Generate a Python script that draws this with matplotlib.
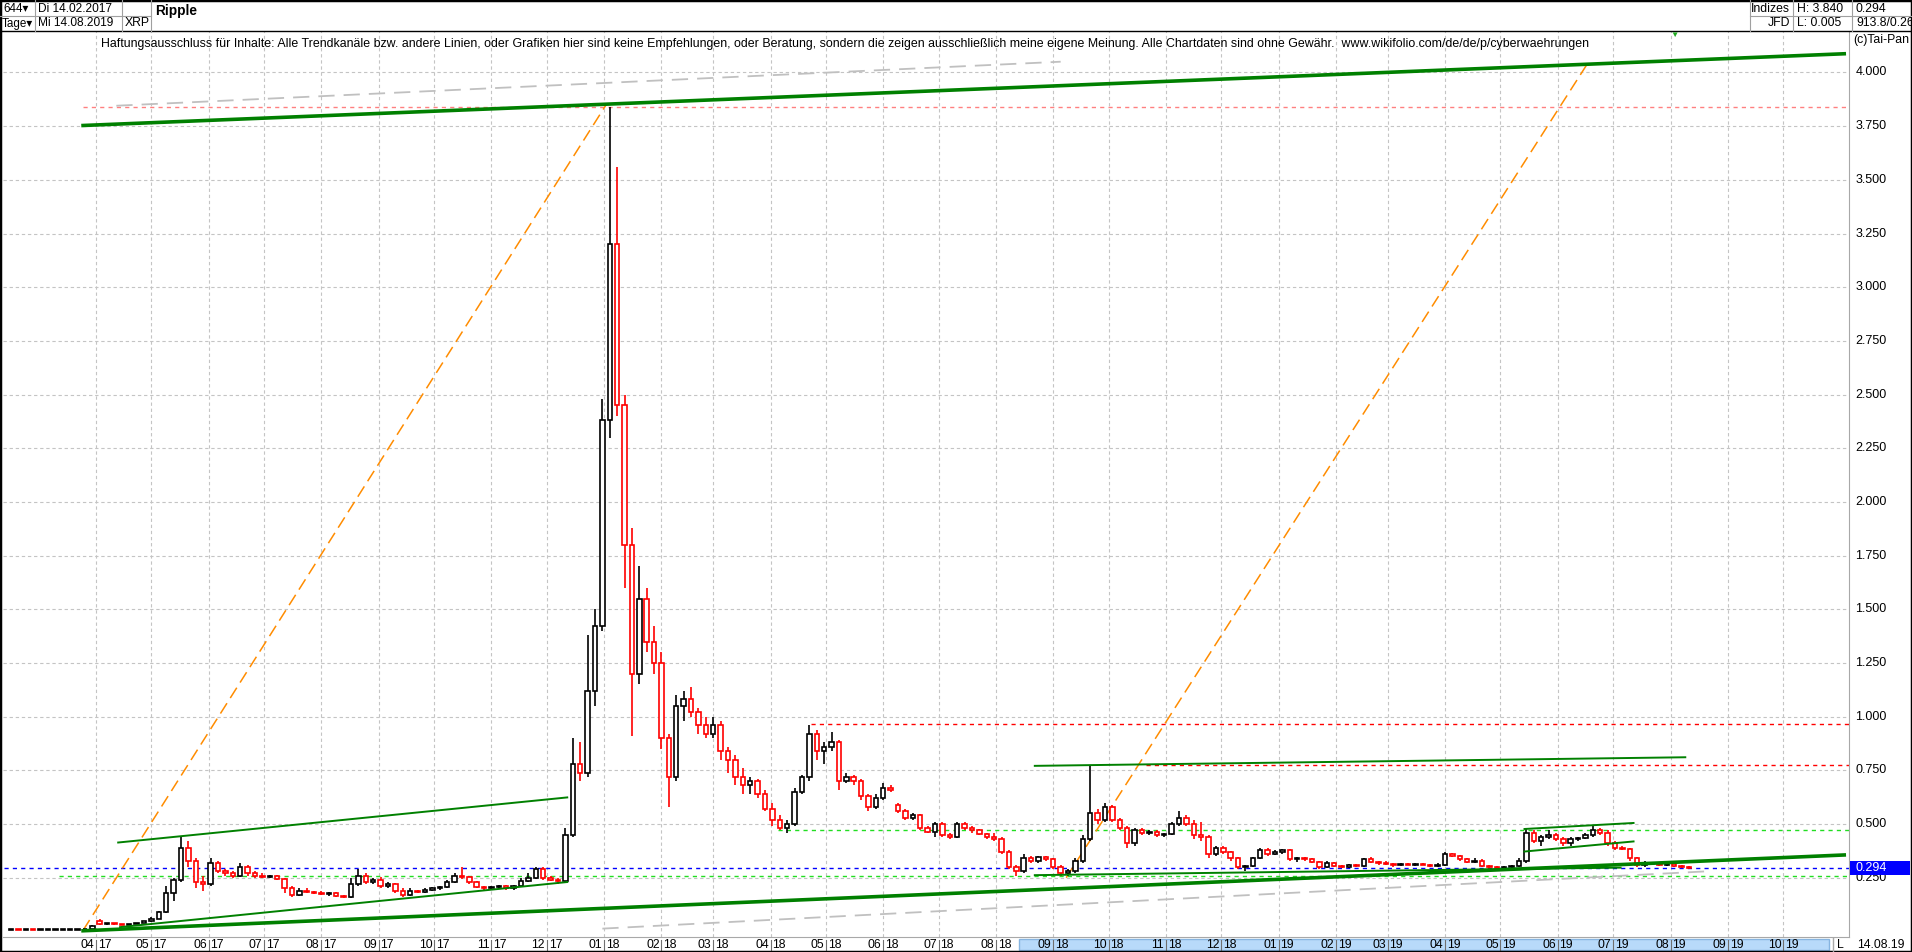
"""Ripple (XRP) 4-day candles with trend channels, Tai-Pan style screenshot."""

import numpy as np
import matplotlib.pyplot as plt
from matplotlib.patches import Rectangle
from matplotlib.lines import Line2D

plt.rcParams["font.family"] = ["Liberation Sans", "DejaVu Sans"]

W, H = 1912, 952
START = np.datetime64("2017-02-14")
BAR_DAYS = 4

# ── OHLC, one candle per 4 days from 14.02.2017 ──────────
opens = [
    .0063, .0064, .0063, .0064, .0062, .0063, .0067, .0068, .0072, .0078,
    .009, .011, .050, .033, .034, .033, .032, .035, .038, .047,
    .060, .090, .180, .240, .390, .330, .230, .220, .320, .280,
    .270, .260, .300, .270, .260, .255, .260, .245, .200, .170,
    .190, .185, .180, .175, .180, .165, .160, .220, .260, .230,
    .240, .210, .220, .190, .170, .190, .185, .195, .200, .205,
    .230, .260, .255, .230, .205, .200, .205, .210, .200, .210,
    .235, .250, .290, .250, .240, .235, .450, .780, .740, 1.12,
    1.42, 2.38, 3.20, 2.45, 1.80, 1.20, 1.55, 1.35, 1.25, .90,
    .72, 1.05, 1.08, 1.02, .96, .92, .96, .84, .80, .72,
    .68, .70, .64, .57, .52, .48, .50, .65, .72, .92,
    .84, .86, .88, .70, .72, .70, .63, .58, .62, .67,
    .59, .56, .53, .54, .48, .465, .50, .45, .44, .50,
    .48, .47, .455, .44, .43, .37, .30, .28, .34, .33,
    .345, .335, .30, .27, .28, .33, .43, .55, .52, .58,
    .52, .48, .41, .47, .46, .465, .45, .455, .50, .53,
    .50, .45, .44, .36, .39, .37, .34, .30, .305, .34,
    .38, .36, .37, .38, .335, .34, .335, .325, .30, .32,
    .305, .30, .31, .305, .335, .325, .32, .315, .31, .315,
    .31, .315, .31, .305, .31, .36, .35, .335, .325, .33,
    .305, .30, .295, .30, .305, .33, .46, .42, .44, .45,
    .43, .41, .43, .435, .45, .47, .46, .41, .39, .385,
    .34, .31, .32, .315, .31, .315, .305, .30,
]
highs = [
    .0068, .0066, .0066, .0065, .0066, .0069, .0070, .0075, .0082, .0095,
    .012, .030, .058, .037, .036, .035, .036, .040, .050, .065,
    .095, .210, .250, .440, .420, .340, .260, .340, .330, .290,
    .280, .320, .310, .280, .270, .265, .265, .250, .210, .200,
    .200, .190, .190, .185, .185, .170, .250, .290, .270, .250,
    .255, .230, .225, .200, .200, .195, .200, .205, .210, .240,
    .270, .300, .260, .235, .210, .210, .215, .215, .215, .250,
    .270, .300, .300, .260, .250, .480, .900, .880, 1.38, 1.50,
    2.48, 3.84, 3.56, 2.50, 1.88, 1.70, 1.60, 1.42, 1.30, .92,
    1.10, 1.12, 1.14, 1.04, 1.00, 1.00, .98, .86, .82, .76,
    .72, .71, .66, .60, .54, .52, .67, .73, .96, .94,
    .88, .93, .89, .74, .73, .71, .64, .64, .69, .68,
    .60, .57, .55, .545, .49, .51, .51, .46, .51, .51,
    .49, .475, .46, .46, .44, .38, .31, .36, .35, .35,
    .35, .34, .31, .29, .34, .45, .77, .57, .60, .59,
    .53, .49, .48, .48, .47, .47, .46, .51, .56, .54,
    .52, .51, .45, .40, .40, .375, .345, .31, .345, .39,
    .39, .38, .385, .385, .345, .345, .34, .33, .33, .325,
    .31, .315, .315, .34, .345, .33, .33, .32, .32, .32,
    .32, .32, .315, .32, .37, .365, .355, .34, .34, .335,
    .31, .305, .305, .31, .34, .48, .47, .45, .47, .46,
    .44, .44, .44, .46, .49, .48, .47, .42, .40, .39,
    .345, .33, .325, .32, .32, .32, .31, .305,
]
lows = [
    .0060, .0061, .0061, .0060, .0061, .0062, .0065, .0066, .0070, .0076,
    .0088, .0105, .030, .030, .031, .030, .031, .034, .037, .045,
    .058, .085, .140, .230, .300, .200, .190, .210, .270, .260,
    .250, .255, .260, .250, .250, .250, .240, .180, .160, .165,
    .180, .175, .170, .165, .160, .155, .155, .210, .220, .220,
    .200, .200, .180, .160, .165, .180, .180, .190, .195, .200,
    .225, .245, .220, .200, .195, .195, .200, .195, .195, .205,
    .230, .245, .240, .235, .220, .230, .440, .700, .720, 1.05,
    1.40, 2.30, 2.40, 1.60, .91, 1.15, 1.30, 1.20, .85, .58,
    .70, .98, 1.00, .92, .90, .90, .80, .74, .68, .64,
    .64, .62, .56, .49, .47, .46, .49, .64, .70, .80,
    .78, .84, .66, .69, .68, .61, .56, .57, .61, .65,
    .55, .52, .52, .47, .46, .44, .44, .43, .435, .47,
    .46, .45, .43, .42, .36, .29, .26, .27, .32, .32,
    .33, .29, .26, .26, .27, .32, .42, .50, .51, .51,
    .47, .39, .40, .45, .45, .44, .44, .45, .49, .49,
    .43, .42, .34, .35, .36, .33, .29, .28, .30, .335,
    .35, .355, .36, .33, .325, .33, .32, .29, .295, .30,
    .295, .295, .30, .30, .32, .31, .31, .30, .305, .31,
    .305, .31, .30, .30, .305, .345, .33, .32, .32, .30,
    .29, .29, .29, .295, .30, .32, .41, .40, .43, .42,
    .40, .40, .42, .43, .44, .45, .40, .38, .38, .33,
    .30, .30, .31, .305, .305, .30, .295, .29,
]
closes = [
    .0064, .0063, .0064, .0062, .0063, .0067, .0068, .0072, .0078, .0090,
    .011, .025, .033, .034, .033, .032, .035, .038, .047, .060,
    .090, .180, .240, .390, .330, .230, .220, .320, .280, .270,
    .260, .300, .270, .260, .255, .260, .245, .200, .170, .190,
    .185, .180, .175, .180, .165, .160, .220, .260, .230, .240,
    .210, .220, .190, .170, .190, .185, .195, .200, .205, .230,
    .260, .255, .230, .205, .200, .205, .210, .200, .210, .235,
    .250, .290, .250, .240, .235, .450, .780, .740, 1.12, 1.42,
    2.38, 3.20, 2.45, 1.80, 1.20, 1.55, 1.35, 1.25, .90, .72,
    1.05, 1.08, 1.02, .96, .92, .96, .84, .80, .72, .68,
    .70, .64, .57, .52, .48, .50, .65, .72, .92, .84,
    .86, .88, .70, .72, .70, .63, .58, .62, .67, .66,
    .56, .53, .54, .48, .465, .50, .45, .44, .50, .48,
    .47, .455, .44, .43, .37, .30, .28, .34, .33, .345,
    .335, .30, .27, .28, .33, .43, .55, .52, .58, .52,
    .48, .41, .47, .46, .465, .45, .455, .50, .53, .50,
    .45, .44, .36, .39, .37, .34, .30, .305, .34, .38,
    .36, .37, .38, .335, .34, .335, .325, .30, .32, .305,
    .30, .31, .305, .335, .325, .32, .315, .31, .315, .31,
    .315, .31, .305, .31, .36, .35, .335, .325, .33, .305,
    .30, .295, .30, .305, .33, .46, .42, .44, .45, .43,
    .41, .43, .435, .45, .47, .46, .41, .39, .385, .34,
    .31, .32, .315, .31, .315, .305, .30, .294,
]

# ── Drawn lines: (start date, start value, end date, end value) ──
thick_green = [("2017-03-25", 3.753, "2019-11-03", 4.087),
               ("2017-03-25", 0.003, "2019-11-03", 0.356)]
thin_green = [("2017-04-13", 0.414, "2017-12-12", 0.624),
              ("2017-04-14", 0.020, "2017-12-12", 0.230),
              ("2018-08-22", 0.771, "2019-08-09", 0.811),
              ("2018-08-22", 0.262, "2019-07-05", 0.297),
              ("2019-05-14", 0.477, "2019-07-12", 0.505),
              ("2019-05-14", 0.372, "2019-07-12", 0.419)]
orange_lines = [("2017-03-25", 0.005, "2018-01-02", 3.849),
                ("2018-09-08", 0.250, "2019-06-17", 4.040)]
grey_lines = [("2017-04-12", 3.845, "2018-09-05", 4.050),
              ("2017-12-31", 0.013, "2019-08-21", 0.280)]
# horizontal levels running to the right edge: (value, from date, colour)
levels = [(3.840, "2017-03-25", "#ff8080"),
          (0.966, "2018-04-23", "#ff0000"),
          (0.773, "2018-10-21", "#ff0000"),
          (0.472, "2018-04-05", "#22dd22"),
          (0.258, "2017-03-12", "#22dd22"),
          (0.294, "2017-02-10", "#0000ff")]

price_ticks = [0.25, 0.5, 0.75, 1.0, 1.25, 1.5, 1.75, 2.0,
               2.25, 2.5, 2.75, 3.0, 3.25, 3.5, 3.75, 4.0]
last_price = 0.294
disclaimer = ("Haftungsausschluss für Inhalte: Alle Trendkanäle bzw. andere Linien, "
              "oder Grafiken hier sind keine Empfehlungen, oder Beratung, sondern die "
              "zeigen ausschließlich meine eigene Meinung. Alle Chartdaten sind ohne "
              "Gewähr.  www.wikifolio.com/de/de/p/cyberwaehrungen")


def day(s):
    return (np.datetime64(s) - START).astype(int)


def fx(x):
    return x / W


def fy(y):
    return 1 - y / H


# pixel layout: x = 11 + 1.848 * day, plot from y=31 to y=937
PX_DAY = 1.848
X0 = (3 - 11) / PX_DAY
X1 = (1849 - 11) / PX_DAY

fig = plt.figure(figsize=(W / 100, H / 100), dpi=100)
ax = fig.add_axes([fx(3), 15 / H, 1846 / W, 906 / H])
ax.set_xlim(X0, X1)
ax.set_ylim(-0.026, 4.193)
ax.set_xticks([])
ax.set_yticks([])
for s in ax.spines.values():
    s.set_visible(False)
ax.spines["right"].set_visible(True)
ax.spines["right"].set_color("#a8a8a8")
ax.spines["bottom"].set_visible(True)
ax.spines["bottom"].set_color("#a8a8a8")

# grid
month_days = []
month_labels = []
for y in (2017, 2018, 2019):
    for m in range(1, 13):
        if (y, m) < (2017, 4) or (y, m) > (2019, 10):
            continue
        month_days.append(day(f"{y}-{m:02d}-01"))
        month_labels.append((f"{m:02d}", f"{y % 100:02d}"))
for v in price_ticks:
    ax.axhline(v, color="#c4c4c4", lw=0.8, dashes=(3, 2.5), zorder=0)
for d in month_days:
    ax.axvline(d, color="#c4c4c4", lw=0.8, dashes=(3, 2.5), zorder=0)

# level lines
for v, d0, col in levels:
    ax.plot([day(d0), X1], [v, v], color=col, lw=1.0, dashes=(3, 3), zorder=1)

for d0, v0, d1, v1 in grey_lines:
    ax.plot([day(d0), day(d1)], [v0, v1], color="#c0c0c0", lw=1.3, dashes=(9, 5), zorder=1)
for d0, v0, d1, v1 in orange_lines:
    ax.plot([day(d0), day(d1)], [v0, v1], color="#ff8c00", lw=1.1, dashes=(8, 4), zorder=2)

# candles
o = np.array(opens)
h = np.array(highs)
l = np.array(lows)
c = np.array(closes)
days = np.arange(len(c)) * BAR_DAYS
cols = np.where(c >= o, "black", "#ff0000")
ax.vlines(days, l, h, colors=cols, lw=1.2, zorder=3)
ax.bar(days, np.maximum(np.abs(c - o), 0.004), bottom=np.minimum(o, c), width=2.4,
       facecolor="white", edgecolor=cols, linewidth=1.2, zorder=4)

for d0, v0, d1, v1 in thin_green:
    ax.plot([day(d0), day(d1)], [v0, v1], color="#008000", lw=1.4, zorder=5)
for d0, v0, d1, v1 in thick_green:
    ax.plot([day(d0), day(d1)], [v0, v1], color="#008000", lw=2.6, zorder=5)

# right price scale
ytr = ax.get_yaxis_transform()
for v in price_ticks:
    ax.text(1.0035, v, f"{v:.3f}", transform=ytr, ha="left", va="center",
            fontsize=9, clip_on=False)
ax.add_patch(Rectangle((1.0008, last_price - 0.033), 0.032, 0.066, transform=ytr,
                       facecolor="#0000ff", edgecolor="none", clip_on=False, zorder=6))
ax.text(1.0035, last_price, f"{last_price:.3f}", transform=ytr, ha="left", va="center",
        fontsize=9, color="white", clip_on=False, zorder=7)

# bottom date row
xtr = ax.get_xaxis_transform()
band0, band1 = (1019 - 11) / PX_DAY, (1829 - 11) / PX_DAY
ax.add_patch(Rectangle((band0, -13 / 906), band1 - band0, 11 / 906, transform=xtr,
                       facecolor="#b8dafa", edgecolor="#86b4e0", lw=1, clip_on=False))
for d, (mm, yy) in zip(month_days, month_labels):
    ax.text(d - 1.0, -8 / 906, mm, transform=xtr, ha="right", va="center",
            fontsize=8.8, clip_on=False)
    ax.text(d + 1.0, -8 / 906, yy, transform=xtr, ha="left", va="center",
            fontsize=8.8, clip_on=False)
    ax.plot([d, d], [-3 / 906, -13 / 906], transform=xtr, color="#707070", lw=0.8,
            clip_on=False)


def line(x0, y0, x1, y1, **kw):
    fig.add_artist(Line2D([fx(x0), fx(x1)], [fy(y0), fy(y1)], **kw))


line(1833, 938, 1833, 952, color="#a8a8a8", lw=1)
fig.text(fx(1837), fy(945), "L", fontsize=8.8, va="center")
fig.text(fx(1857), fy(945), "14.08.19", fontsize=8.8, va="center")

# header
line(0, 31, W, 31, color="black", lw=1)
line(0, 16, 151, 16, color="#a0a0a0", lw=0.8)
line(1750, 16, W, 16, color="#a0a0a0", lw=0.8)
for xv in (35, 122, 151, 1750, 1793, 1852):
    line(xv, 0, xv, 31, color="#a0a0a0", lw=0.8)
fig.text(fx(3), fy(8.5), "644▾", fontsize=8.4, va="center")
fig.text(fx(38), fy(8.5), "Di 14.02.2017", fontsize=8.6, va="center")
fig.text(fx(2), fy(23.5), "Tage▾", fontsize=8.4, va="center")
fig.text(fx(38), fy(23.5), "Mi 14.08.2019", fontsize=8.6, va="center")
fig.text(fx(125), fy(23.5), "XRP", fontsize=8.8, va="center")
fig.text(fx(155), fy(11), "Ripple", fontsize=9.8, fontweight="bold", va="center")
fig.text(fx(1790), fy(8.5), "Indizes", fontsize=8.8, va="center", ha="right")
fig.text(fx(1790), fy(23.5), "JFD", fontsize=8.8, va="center", ha="right")
fig.text(fx(1797), fy(8.5), "H: 3.840", fontsize=8.8, va="center")
fig.text(fx(1797), fy(23.5), "L: 0.005", fontsize=8.8, va="center")
fig.text(fx(1856), fy(8.5), "0.294", fontsize=8.8, va="center")
fig.text(fx(1856), fy(23.5), "913.8/0.26", fontsize=8.8, va="center")

fig.text(fx(101), fy(44), disclaimer, fontsize=8.9, va="center")
fig.text(fx(1853), fy(40), "(c)Tai-Pan", fontsize=8.8, va="center")
fig.text(fx(1674), fy(35), "▼", fontsize=6, color="#22aa22", ha="center", va="center")

fig.add_artist(Rectangle((0, 0), 1, 1, transform=fig.transFigure, fill=False,
                         edgecolor="black", lw=2.5))

fig.savefig("out.png", dpi=100)
